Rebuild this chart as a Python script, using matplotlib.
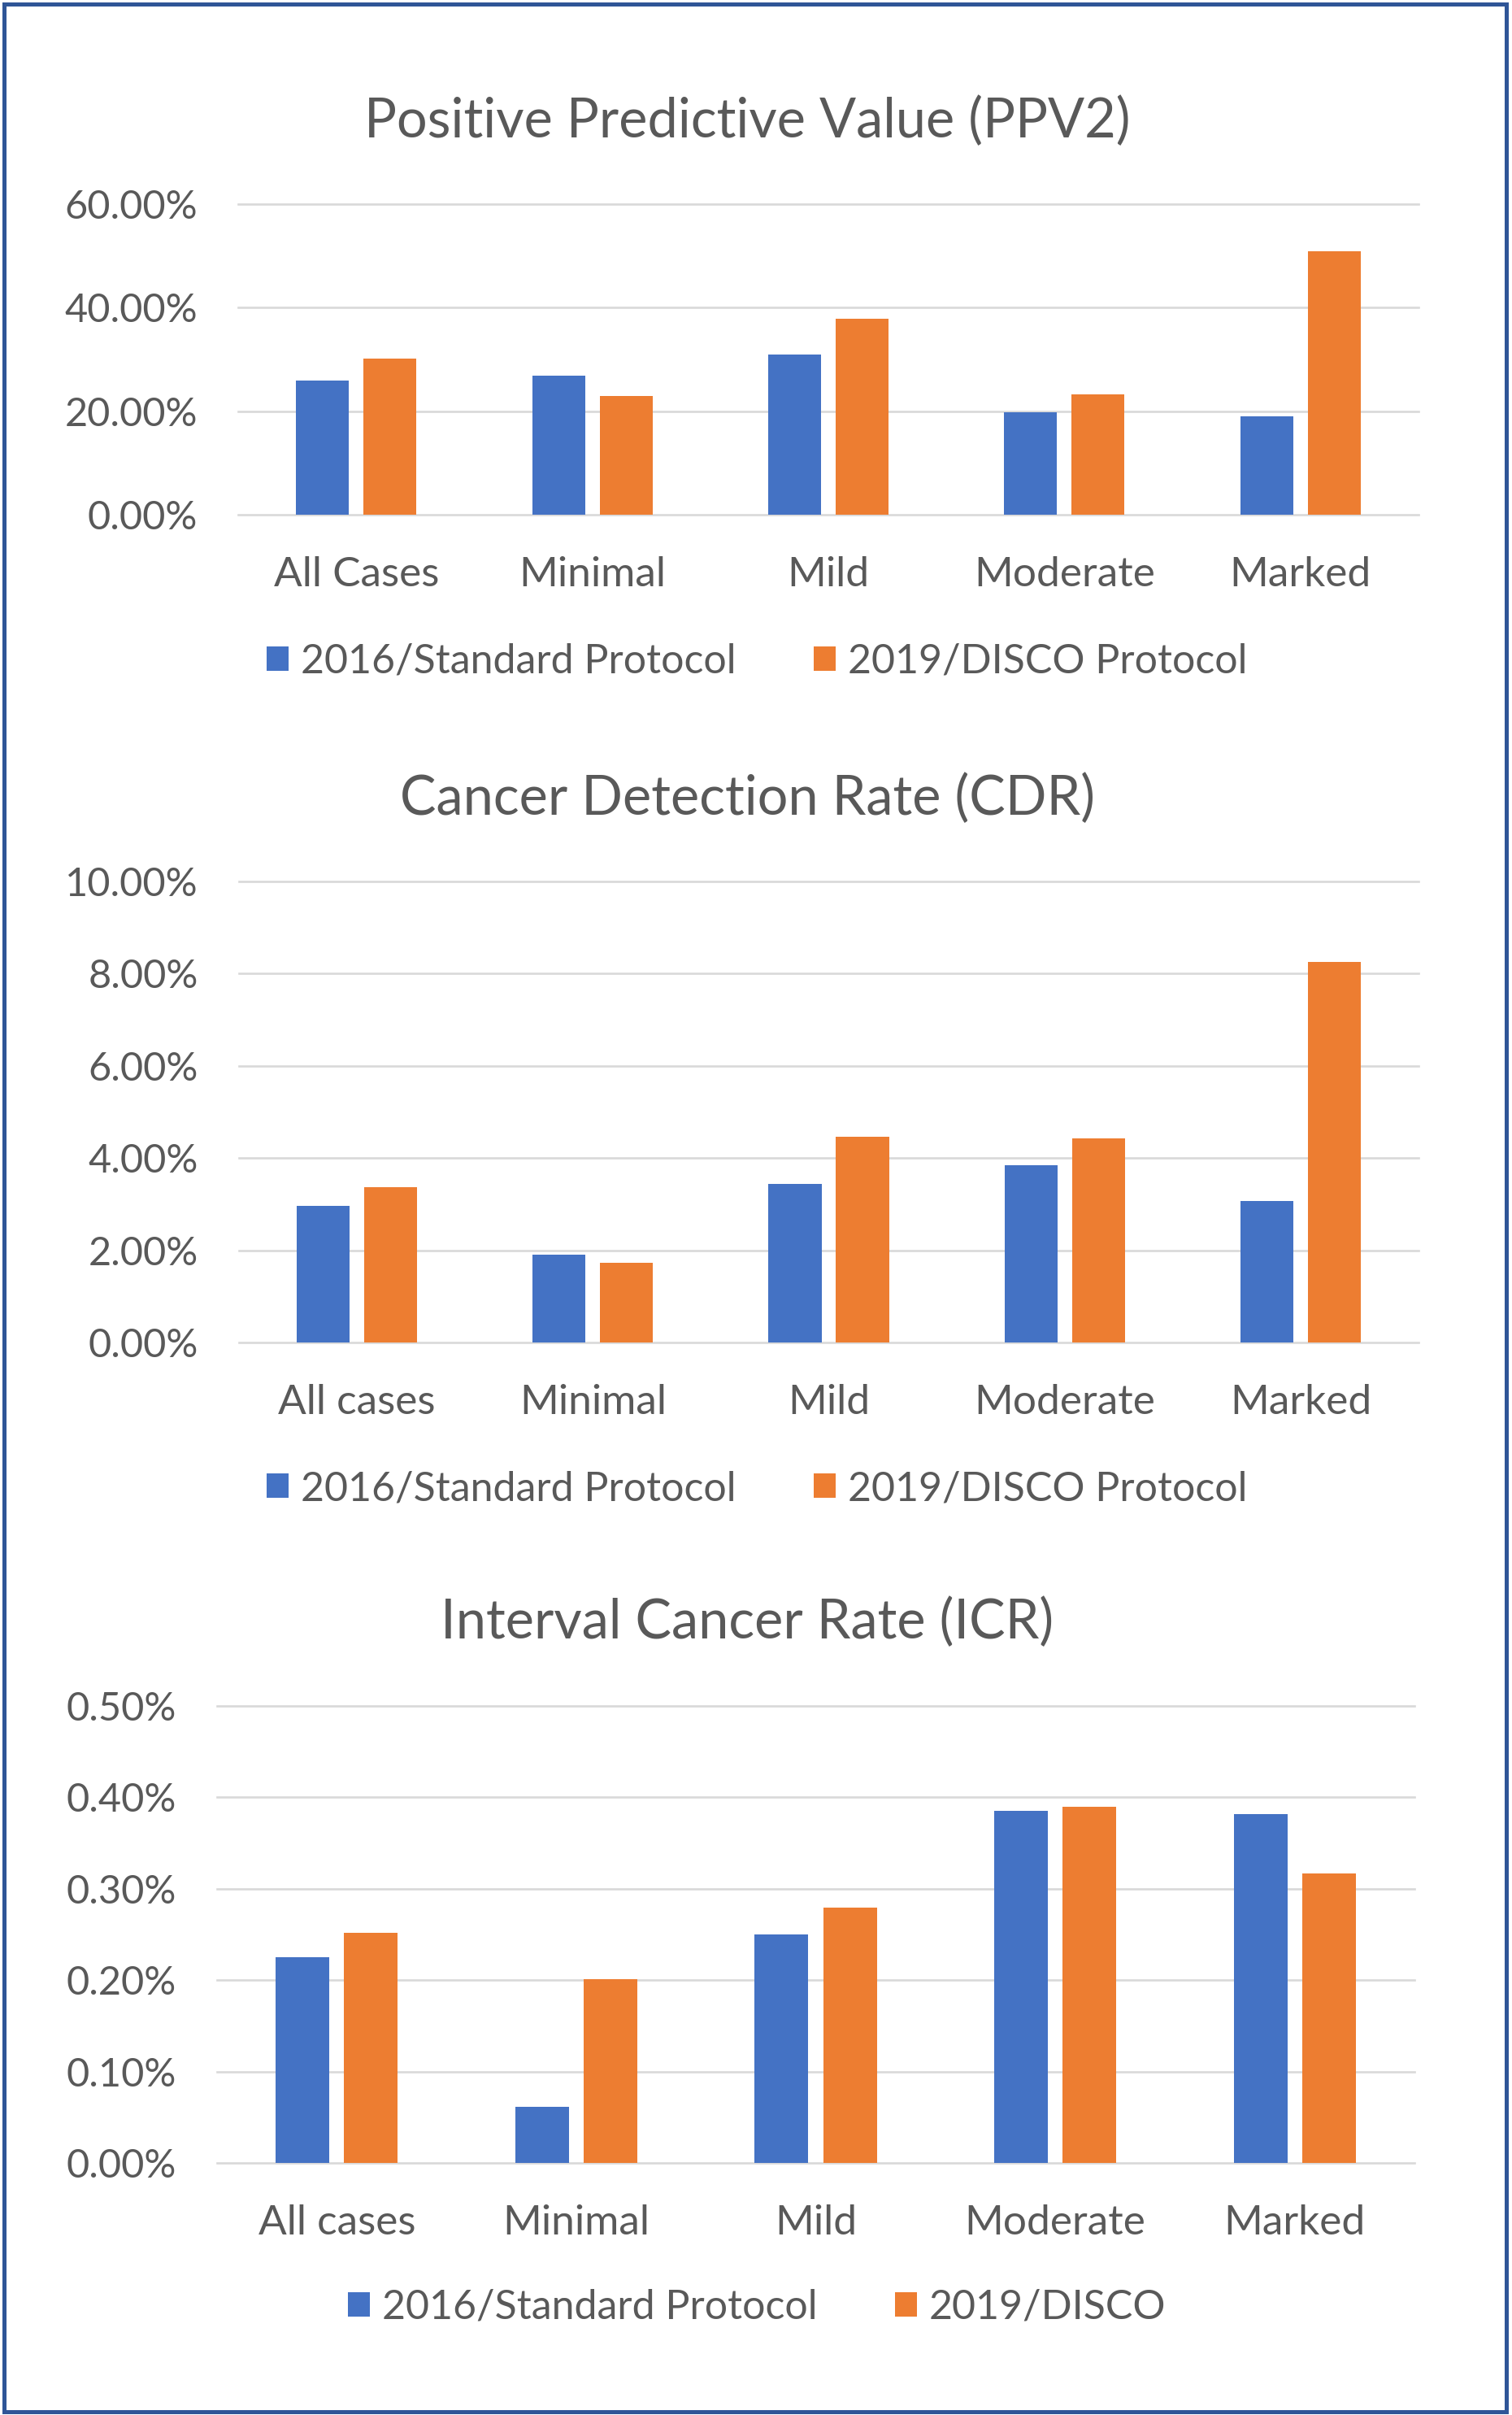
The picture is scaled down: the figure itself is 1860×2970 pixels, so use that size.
import matplotlib.pyplot as plt
from matplotlib.patches import Patch, Rectangle
from matplotlib.ticker import FuncFormatter
import numpy as np

plt.rcParams['font.family'] = ['Lato', 'DejaVu Sans']

# data (fractions)
cats_ppv = ['All Cases', 'Minimal', 'Mild', 'Moderate', 'Marked']
ppv_2016 = [0.259, 0.268, 0.310, 0.198, 0.190]
ppv_2019 = [0.302, 0.229, 0.379, 0.232, 0.509]

cats_cdr = ['All cases', 'Minimal', 'Mild', 'Moderate', 'Marked']
cdr_2016 = [0.0297, 0.0191, 0.0344, 0.0385, 0.0306]
cdr_2019 = [0.0337, 0.0173, 0.0447, 0.0443, 0.0826]

cats_icr = ['All cases', 'Minimal', 'Mild', 'Moderate', 'Marked']
icr_2016 = [0.00225, 0.00061, 0.00250, 0.00385, 0.00382]
icr_2019 = [0.00252, 0.00201, 0.00279, 0.00390, 0.00317]

BLUE = '#4472C4'
ORANGE = '#ED7D31'
GRID = '#D9D9D9'
TXT = '#595959'

W, H = 1860, 2970
fig = plt.figure(figsize=(W / 100, H / 100), dpi=100)


def px_axes(left, right, top, bottom):
    # pixel box -> figure fraction rect
    return [left / W, 1 - bottom / H, (right - left) / W, (bottom - top) / H]


def draw_panel(rect, cats, s1, s2, ymax, step, decimals, title, title_y,
               legend_y, labels):
    ax = fig.add_axes(rect)
    x = np.arange(len(cats))
    bw = 0.224
    off = 0.143
    ax.bar(x - off, s1, bw, color=BLUE, zorder=3)
    ax.bar(x + off, s2, bw, color=ORANGE, zorder=3)
    ax.set_xlim(-0.5, len(cats) - 0.5)
    ax.set_ylim(0, ymax)
    ax.set_yticks(np.arange(0, ymax + step / 2, step))
    ax.yaxis.set_major_formatter(
        FuncFormatter(lambda v, p: f"{v * 100:.{decimals}f}%"))
    ax.set_xticks(x)
    ax.set_xticklabels(cats)
    ax.yaxis.grid(True, color=GRID, linewidth=1.9, zorder=0)
    for gl in ax.get_ygridlines():
        gl.set_clip_on(False)
    ax.set_axisbelow(True)
    for sp in ax.spines.values():
        sp.set_visible(False)
    ax.tick_params(axis='both', length=0, colors=TXT)
    ax.tick_params(axis='y', pad=36, labelsize=35)
    ax.tick_params(axis='x', pad=37, labelsize=37)
    for t in ax.get_xticklabels() + ax.get_yticklabels():
        t.set_color(TXT)

    fig.text(919 / W, 1 - title_y / H, title, ha='center', va='center',
             fontsize=48, color=TXT)

    handles = [Patch(facecolor=BLUE, label=labels[0]),
               Patch(facecolor=ORANGE, label=labels[1])]
    fig.legend(handles=handles, loc='center',
               bbox_to_anchor=(931 / W, 1 - legend_y / H), ncol=2,
               frameon=False, fontsize=36, labelcolor=TXT,
               handlelength=0.55, handleheight=0.55, handletextpad=0.3,
               columnspacing=1.9, borderaxespad=0)
    return ax


draw_panel(px_axes(293, 1745, 251, 633), cats_ppv, ppv_2016, ppv_2019,
           0.6, 0.2, 2, 'Positive Predictive Value (PPV2)', 150, 814,
           ['2016/Standard Protocol', '2019/DISCO Protocol'])

draw_panel(px_axes(294, 1745, 1084, 1651), cats_cdr, cdr_2016, cdr_2019,
           0.10, 0.02, 2, 'Cancer Detection Rate (CDR)', 983, 1831,
           ['2016/Standard Protocol', '2019/DISCO Protocol'])

draw_panel(px_axes(267, 1740, 2098, 2660), cats_icr, icr_2016, icr_2019,
           0.005, 0.001, 2, 'Interval Cancer Rate (ICR)', 1996, 2838,
           ['2016/Standard Protocol', '2019/DISCO'])

# outer frame
fig.patches.append(Rectangle((4.5 / W, 1 - 2965.5 / H), (1852.5 - 4.5) / W,
                             (2965.5 - 4.5) / H, transform=fig.transFigure,
                             fill=False, edgecolor='#2F5597', linewidth=3.6))

fig.savefig('out.png', dpi=100)
